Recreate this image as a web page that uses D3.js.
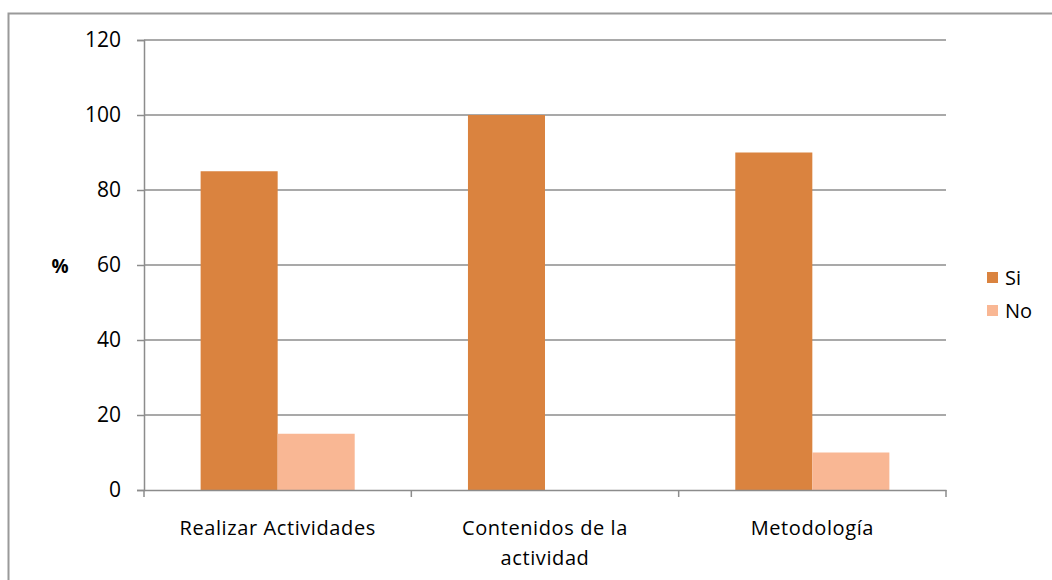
<!DOCTYPE html>
<html>
<head>
<meta charset="utf-8">
<script src="https://cdn.jsdelivr.net/npm/d3@7"></script>
<style>
  body { margin: 0; background: #fff; }
  svg { display: block; }
</style>
</head>
<body>
<div class="chart"></div>
<script>
const categories = ["Realizar Actividades", "Contenidos de la|actividad", "Metodología"];
const seriesNames = ["Si", "No"];
const siValues = [85, 100, 90];
const noValues = [15, 0, 10];
const yTicks = [0, 20, 40, 60, 80, 100, 120];
const colors = ["#DA833F", "#F9B794"];

(function () {
    const w = 1052;
    const h = 580;
    const margin = {left: 144, right: 106, top: 40, bottom: 90};
    const font = "'Open Sans', sans-serif";

    const svg = d3.select(".chart")
        .append("svg")
        .attr("width", w)
        .attr("height", h);

    // chart border (only top and left edges are in view)
    svg.append("path")
        .attr("d", `M8.5,${h} V13.5 H${w}`)
        .attr("fill", "none")
        .attr("stroke", "#9a9a9a")
        .attr("stroke-width", 2);

    const x = d3.scaleBand()
        .domain(categories)
        .range([margin.left, w - margin.right]);

    const xInner = d3.scaleBand()
        .domain(seriesNames)
        .range([0, x.bandwidth()])
        .paddingOuter(0.735);

    const y = d3.scaleLinear()
        .domain([0, 120])
        .range([h - margin.bottom, margin.top]);

    // gridlines
    svg.append("g")
        .selectAll("line")
        .data(yTicks.slice(1))
        .enter()
        .append("line")
            .attr("x1", margin.left)
            .attr("x2", w - margin.right)
            .attr("y1", d => y(d))
            .attr("y2", d => y(d))
            .attr("stroke", "#8c8c8c")
            .attr("stroke-width", 1.5);

    // bars
    const data = categories.map((c, i) => ({cat: c, vals: [siValues[i], noValues[i]]}));
    const groups = svg.append("g")
        .selectAll("g")
        .data(data)
        .enter()
        .append("g")
            .attr("transform", d => `translate(${x(d.cat)},0)`);

    groups.selectAll("rect")
        .data(d => d.vals.map((v, j) => ({name: seriesNames[j], v: v, j: j})))
        .enter()
        .append("rect")
            .attr("x", d => xInner(d.name))
            .attr("width", xInner.bandwidth())
            .attr("y", d => y(d.v))
            .attr("height", d => y(0) - y(d.v))
            .attr("fill", d => colors[d.j]);

    // y axis
    const yAxis = svg.append("g")
        .attr("transform", `translate(${margin.left},0)`)
        .call(d3.axisLeft(y).tickValues(yTicks).tickSize(7).tickPadding(16));
    yAxis.select(".domain").attr("stroke", "#8c8c8c").attr("stroke-width", 1.5);
    yAxis.selectAll(".tick line").attr("stroke", "#8c8c8c").attr("stroke-width", 1.5);
    yAxis.selectAll(".tick text")
        .attr("font-family", font)
        .attr("font-size", "21px")
        .attr("fill", "#000");

    // x axis
    const xAxis = svg.append("g")
        .attr("transform", `translate(0,${y(0)})`)
        .call(d3.axisBottom(x).tickSize(0).tickFormat(""));
    xAxis.select(".domain").attr("stroke", "#8c8c8c").attr("stroke-width", 1.5);

    // category boundary ticks
    svg.append("g")
        .selectAll("line")
        .data(categories.concat(["end"]))
        .enter()
        .append("line")
            .attr("x1", (d, i) => i < categories.length ? x(d) : x(categories[categories.length - 1]) + x.bandwidth())
            .attr("x2", (d, i) => i < categories.length ? x(d) : x(categories[categories.length - 1]) + x.bandwidth())
            .attr("y1", y(0))
            .attr("y2", y(0) + 7)
            .attr("stroke", "#8c8c8c")
            .attr("stroke-width", 1.5);

    // category labels
    const labels = svg.append("g")
        .selectAll("text")
        .data(categories)
        .enter()
        .append("text")
            .attr("x", d => x(d) + x.bandwidth() / 2)
            .attr("y", y(0) + 45)
            .attr("text-anchor", "middle")
            .attr("font-family", font)
            .attr("font-size", "20px")
            .attr("letter-spacing", "0.6px")
            .attr("fill", "#000");
    labels.each(function (d) {
        const parts = d.split("|");
        const t = d3.select(this);
        parts.forEach((p, k) => {
            t.append("tspan")
                .attr("x", x(d) + x.bandwidth() / 2)
                .attr("dy", k === 0 ? 0 : 30)
                .text(p);
        });
    });

    // y axis title
    svg.append("text")
        .text("%")
        .attr("x", 60)
        .attr("y", y(60) + 8)
        .attr("text-anchor", "middle")
        .attr("font-family", font)
        .attr("font-weight", "bold")
        .attr("font-size", "19px");

    // legend
    const legend = svg.append("g")
        .selectAll("g")
        .data(seriesNames)
        .enter()
        .append("g")
            .attr("transform", (d, i) => `translate(987,${272 + i * 33})`);
    legend.append("rect")
        .attr("width", 11)
        .attr("height", 11)
        .attr("fill", (d, i) => colors[i]);
    legend.append("text")
        .text(d => d)
        .attr("x", 18)
        .attr("y", 13)
        .attr("font-family", font)
        .attr("font-size", "20px")
        .attr("fill", "#000");
})();
</script>
</body>
</html>
